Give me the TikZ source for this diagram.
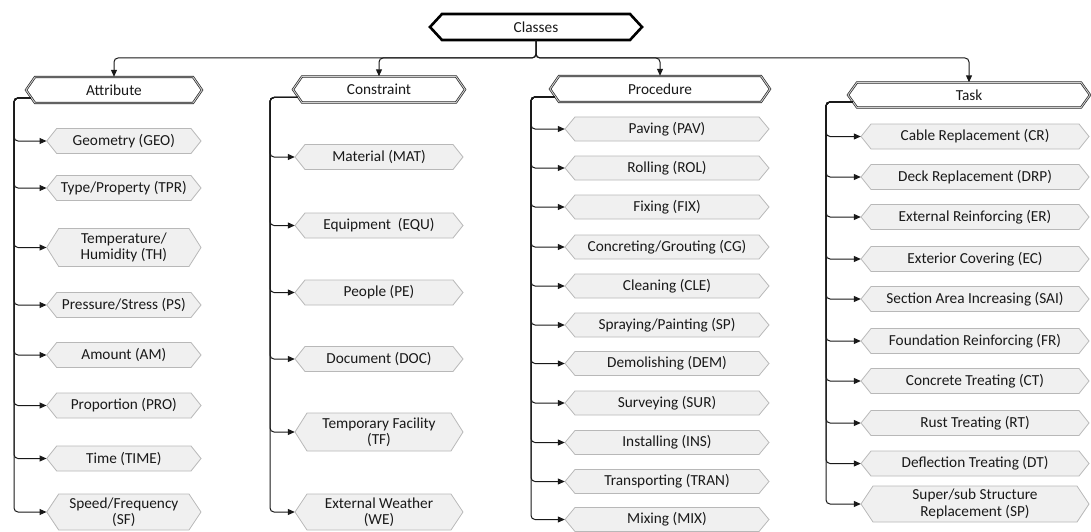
\documentclass[tikz,border=0pt]{standalone}
\usepackage{fontspec}
\setmainfont{Carlito}
\usetikzlibrary{arrows.meta,calc}

\tikzset{
  itemhex/.style={draw=black!28, fill=black!6, line width=0.8pt, line join=miter},
  headhex/.style={draw=black!85, double=black!18, double distance=0.9pt, line width=0.7pt, fill=white, line join=miter},
  roothex/.style={draw=black, line width=2.6pt, fill=white, line join=miter},
  hextext/.style={inner sep=0pt, align=center, font=\fontsize{15.3}{16.5}\selectfont, text=black!90},
  link/.style={draw=black!90, line width=1pt, rounded corners=4pt, -{Triangle[length=7pt,width=6pt]}},
}

% hexagon box: #1 outline style, #2 node name, #3 left tip x, #4 right tip x,
% #5 centre y, #6 height, #7 corner inset, #8 text
\newcommand{\hexbox}[8]{%
  \pgfmathsetmacro{\hxc}{(#3+#4)/2}%
  \pgfmathsetmacro{\hxw}{#4-#3}%
  \draw[#1] (#3,#5) -- (#3+#7,#5-#6/2) -- (#4-#7,#5-#6/2) -- (#4,#5)
            -- (#4-#7,#5+#6/2) -- (#3+#7,#5+#6/2) -- cycle;
  \node[hextext, minimum width=\hxw pt, minimum height=#6pt] (#2) at (\hxc,#5) {#8};%
}

\begin{document}
\begin{tikzpicture}[x=1pt,y=-1pt]
\useasboundingbox (0,0) rectangle (1091,532);

% root and class headers
\hexbox{roothex}{root}{430}{642}{27}{26}{12}{Classes}
\hexbox{headhex}{hA}{26}{202}{90}{26}{9}{Attribute}
\hexbox{headhex}{hC}{293}{465}{89.5}{26}{9}{Constraint}
\hexbox{headhex}{hP}{550}{770}{89}{26}{9}{Procedure}
\hexbox{headhex}{hT}{848}{1090}{95}{25}{9}{Task}

% Attribute items
\hexbox{itemhex}{a1}{46.7}{201}{141}{25}{10}{Geometry (GEO)}
\hexbox{itemhex}{a2}{46.7}{201}{188}{25}{10}{Type/Property (TPR)}
\hexbox{itemhex}{a3}{46.7}{201}{247.5}{38}{12}{Temperature/\\Humidity (TH)}
\hexbox{itemhex}{a4}{46.7}{201}{305}{25}{10}{Pressure/Stress (PS)}
\hexbox{itemhex}{a5}{46.7}{201}{355}{25}{10}{Amount (AM)}
\hexbox{itemhex}{a6}{46.7}{201}{405.5}{25}{10}{Proportion (PRO)}
\hexbox{itemhex}{a7}{46.7}{201}{458.5}{25}{10}{Time (TIME)}
\hexbox{itemhex}{a8}{46.7}{201}{512}{36}{12}{Speed/Frequency\\(SF)}

% Constraint items
\hexbox{itemhex}{c1}{295}{463}{157}{25}{10}{Material (MAT)}
\hexbox{itemhex}{c2}{295}{463}{225.5}{25}{10}{Equipment\ \ (EQU)}
\hexbox{itemhex}{c3}{295}{463}{292.5}{25}{10}{People (PE)}
\hexbox{itemhex}{c4}{295}{463}{359}{25}{10}{Document (DOC)}
\hexbox{itemhex}{c5}{295}{463}{432}{38}{12}{Temporary Facility\\(TF)}
\hexbox{itemhex}{c6}{295}{463}{512}{36}{12}{External Weather\\(WE)}

% Procedure items
\hexbox{itemhex}{p1}{565}{769}{129}{24}{10}{Paving (PAV)}
\hexbox{itemhex}{p2}{565}{769}{168}{24}{10}{Rolling (ROL)}
\hexbox{itemhex}{p3}{565}{769}{207}{24}{10}{Fixing (FIX)}
\hexbox{itemhex}{p4}{565}{769}{247}{24}{10}{Concreting/Grouting (CG)}
\hexbox{itemhex}{p5}{565}{769}{286}{24}{10}{Cleaning (CLE)}
\hexbox{itemhex}{p6}{565}{769}{325}{24}{10}{Spraying/Painting (SP)}
\hexbox{itemhex}{p7}{565}{769}{363.5}{24}{10}{Demolishing (DEM)}
\hexbox{itemhex}{p8}{565}{769}{403}{24}{10}{Surveying (SUR)}
\hexbox{itemhex}{p9}{565}{769}{442.5}{24}{10}{Installing (INS)}
\hexbox{itemhex}{p10}{565}{769}{481.5}{24}{10}{Transporting (TRAN)}
\hexbox{itemhex}{p11}{565}{769}{519.5}{24}{10}{Mixing (MIX)}

% Task items
\hexbox{itemhex}{t1}{861}{1089}{136.5}{25}{10}{Cable Replacement (CR)}
\hexbox{itemhex}{t2}{861}{1089}{177}{25}{10}{Deck Replacement (DRP)}
\hexbox{itemhex}{t3}{861}{1089}{217}{25}{10}{External Reinforcing (ER)}
\hexbox{itemhex}{t4}{861}{1089}{259}{25}{10}{Exterior Covering (EC)}
\hexbox{itemhex}{t5}{861}{1089}{299}{25}{10}{Section Area Increasing (SAI)}
\hexbox{itemhex}{t6}{861}{1089}{341}{25}{10}{Foundation Reinforcing (FR)}
\hexbox{itemhex}{t7}{861}{1089}{381}{25}{10}{Concrete Treating (CT)}
\hexbox{itemhex}{t8}{861}{1089}{423}{25}{10}{Rust Treating (RT)}
\hexbox{itemhex}{t9}{861}{1089}{463.5}{25}{10}{Deflection Treating (DT)}
\hexbox{itemhex}{t10}{861}{1089}{504}{36}{12}{Super/sub Structure\\Replacement (SP)}

% bus from the root to the class headers
\coordinate (bus) at (0,58);
\foreach \h in {hA,hC,hP,hT}
  \draw[link] (root.south) -- (root.south |- bus) -- (\h.north |- bus) -- (\h.north);

% column trunks
\coordinate (aTop) at (14,98);
\coordinate (cTop) at (270,97.5);
\coordinate (pTop) at (531,97);
\coordinate (tTop) at (826,102);

\foreach \n in {a1,a2,a3,a4,a5,a6,a7,a8}
  \draw[link] ($(hA.west)+(5,8)$) -- (aTop) |- (\n.west);
\foreach \n in {c1,c2,c3,c4,c5,c6}
  \draw[link] ($(hC.west)+(5,8)$) -- (cTop) |- (\n.west);
\foreach \n in {p1,p2,p3,p4,p5,p6,p7,p8,p9,p10,p11}
  \draw[link] ($(hP.west)+(5,8)$) -- (pTop) |- (\n.west);
\foreach \n in {t1,t2,t3,t4,t5,t6,t7,t8,t9,t10}
  \draw[link] ($(hT.west)+(5,7)$) -- (tTop) |- (\n.west);
\end{tikzpicture}
\end{document}
